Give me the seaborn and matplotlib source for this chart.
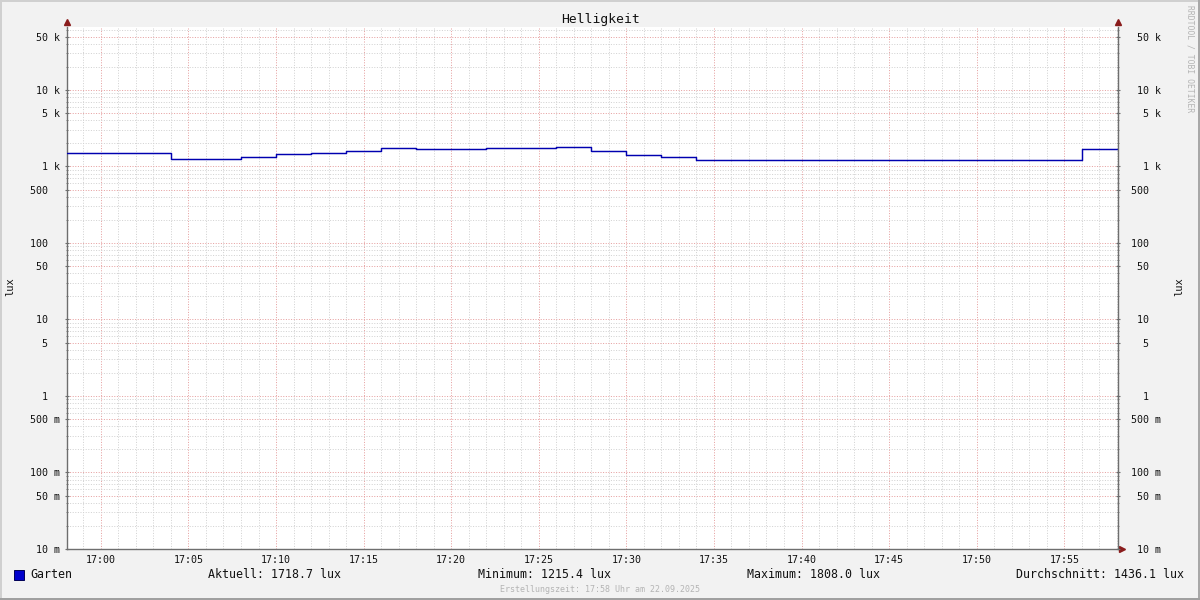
import matplotlib
matplotlib.use("Agg")
import numpy as np
import pandas as pd
import seaborn as sns
import matplotlib.pyplot as plt
import matplotlib.dates as mdates
from matplotlib.ticker import FixedLocator, NullFormatter
from matplotlib.patches import Rectangle

# ---------------- data ----------------
title = "Helligkeit"
series_name = "Garten"
unit = "lux"
day = "2025-09-22"
times = ["16:58:04", "17:04:00", "17:08:00", "17:10:00", "17:12:00", "17:14:00",
         "17:16:00", "17:18:00", "17:22:00", "17:26:00", "17:28:00", "17:30:00",
         "17:32:00", "17:34:00", "17:56:00", "17:58:04"]
lux = [1510, 1255, 1335, 1460, 1505, 1600, 1750, 1700, 1750, 1808, 1600, 1420,
       1335, 1215.4, 1718.7, 1718.7]
ytick_values = [0.01, 0.05, 0.1, 0.5, 1, 5, 10, 50, 100, 500, 1000, 5000, 10000, 50000]
ytick_labels = [" 10 m", " 50 m", "100 m", "500 m", "  1  ", "  5  ", " 10  ",
                " 50  ", "100  ", "500  ", "  1 k", "  5 k", " 10 k", " 50 k"]
stat_labels = ["Aktuell: 1718.7 lux", "Minimum: 1215.4 lux",
               "Maximum: 1808.0 lux", "Durchschnitt: 1436.1 lux"]
footer = "Erstellungszeit: 17:58 Uhr am 22.09.2025"
watermark = "RRDTOOL / TOBI OETIKER"

# ---------------- style ----------------
sns.set_theme(style="white")
plt.rcParams["font.family"] = ["DejaVu Sans Mono", "DejaVu Sans"]

W, H = 1200, 600
BG = "#f2f2f2"
LINE = "#0000b0"
MAJ = "#e6a0a0"
MIN = "#d2d2d2"
AXC = "#6e6e6e"
ARROW = "#8a1c1c"

fig = plt.figure(figsize=(12, 6), dpi=100, facecolor=BG)

def fx(x):
    return x / W

def fy(y):
    return 1 - y / H

x0, x1, y0, y1 = 67, 1118, 27, 549
ax = fig.add_axes([fx(x0), fy(y1), (x1 - x0) / W, (y1 - y0) / H])
ax.set_facecolor("white")

df = pd.DataFrame({"t": pd.to_datetime([f"{day} {t}" for t in times]), "lux": lux})
sns.lineplot(data=df, x="t", y="lux", drawstyle="steps-post", color=LINE,
             linewidth=1.05, ax=ax, zorder=3, legend=False)

ax.set_yscale("log")
ylim = (0.01, 66600)
ax.set_ylim(*ylim)
ax.set_xlim(df["t"].iloc[0], df["t"].iloc[-1])
ax.set_xlabel("")
ax.set_ylabel("")

minor_vals = [m * 10.0 ** e for e in range(-2, 5) for m in (2, 3, 4, 6, 7, 8, 9)]
minor_vals = [v for v in minor_vals if ylim[0] < v < ylim[1]]

# x axis ticks
ax.xaxis.set_major_locator(mdates.MinuteLocator(byminute=range(0, 60, 5)))
ax.xaxis.set_minor_locator(mdates.MinuteLocator())
ax.xaxis.set_major_formatter(mdates.DateFormatter("%H:%M"))
ax.tick_params(axis="x", which="major", direction="inout", length=4, width=0.8,
               color=AXC, labelsize=7.2, pad=2, labelcolor="#111111")
ax.tick_params(axis="x", which="minor", direction="inout", length=3, width=0.6, color=AXC)

# left y axis
ax.yaxis.set_major_locator(FixedLocator(ytick_values))
ax.yaxis.set_minor_locator(FixedLocator(minor_vals))
ax.yaxis.set_minor_formatter(NullFormatter())
ax.set_yticks(ytick_values, labels=ytick_labels, ha="left")
ax.tick_params(axis="y", which="major", direction="inout", length=3, width=0.8,
               color=AXC, labelsize=7.2, pad=25.1, labelcolor="#111111",
               left=True, right=False)
ax.tick_params(axis="y", which="minor", direction="inout", length=2, width=0.6,
               color=AXC, left=True, right=False)

# grid
ax.grid(which="minor", axis="both", color=MIN, linestyle=(0, (1, 1.6)), linewidth=0.72, zorder=0)
ax.grid(which="major", axis="both", color=MAJ, linestyle=(0, (1, 1.6)), linewidth=0.72, zorder=1)
ax.set_axisbelow(True)

for s in ["top", "right"]:
    ax.spines[s].set_visible(False)
for s in ["left", "bottom"]:
    ax.spines[s].set_color(AXC)
    ax.spines[s].set_linewidth(1.0)

# right y axis
ax2 = ax.twinx()
ax2.set_yscale("log")
ax2.set_ylim(*ylim)
ax2.yaxis.set_major_locator(FixedLocator(ytick_values))
ax2.yaxis.set_minor_locator(FixedLocator(minor_vals))
ax2.yaxis.set_minor_formatter(NullFormatter())
ax2.set_yticks(ytick_values, labels=ytick_labels, ha="left")
ax2.tick_params(axis="y", which="major", direction="inout", length=3, width=0.8,
                color=AXC, labelsize=7.2, pad=7.9, labelcolor="#111111")
ax2.tick_params(axis="y", which="minor", direction="inout", length=2, width=0.6, color=AXC)
ax2.grid(False)
for s in ["top", "left", "bottom"]:
    ax2.spines[s].set_visible(False)
ax2.spines["right"].set_color(AXC)
ax2.spines["right"].set_linewidth(1.0)
ax2.patch.set_visible(False)

# arrows
for pos, mk in [((0, 1 + 5 / (y1 - y0)), "^"), ((1, 1 + 5 / (y1 - y0)), "^"),
                ((1 + 4 / (x1 - x0), 0), ">")]:
    ax.plot([pos[0]], [pos[1]], marker=mk, markersize=4.5, color=ARROW,
            transform=ax.transAxes, clip_on=False, zorder=5)

# texts
fig.text(fx(600), fy(19), title, ha="center", va="center", fontsize=9.4, color="#111111")
fig.text(fx(10), fy(287), unit, ha="center", va="center", rotation=90, fontsize=7.5, color="#111111")
fig.text(fx(1179), fy(287), unit, ha="center", va="center", rotation=90, fontsize=7.5, color="#111111")
fig.text(fx(1190), fy(5), watermark, ha="center", va="top", rotation=270,
         fontsize=5.8, color="#b4b4b4")

# legend row
fig.patches.append(Rectangle((fx(14), fy(580)), 10 / W, 10 / H, transform=fig.transFigure,
                             facecolor="#0000cc", edgecolor="#000055", linewidth=0.7))
fig.text(fx(30), fy(575), series_name, ha="left", va="center", fontsize=8.35, color="#111111")
for xpos, txt in zip([208, 478, 747, 1016], stat_labels):
    fig.text(fx(xpos), fy(575), txt, ha="left", va="center", fontsize=8.35, color="#111111")
fig.text(fx(600), fy(589), footer, ha="center", va="center", fontsize=6.0, color="#b4b4b4")

# 3D-ish frame
fig.patches.append(Rectangle((0, 0), 2 / W, 1, transform=fig.transFigure, facecolor="#d0d0d0", edgecolor="none"))
fig.patches.append(Rectangle((0, 1 - 2 / H), 1, 2 / H, transform=fig.transFigure, facecolor="#d0d0d0", edgecolor="none"))
fig.patches.append(Rectangle((1 - 2 / W, 0), 2 / W, 1, transform=fig.transFigure, facecolor="#a8a8a8", edgecolor="none"))
fig.patches.append(Rectangle((0, 0), 1, 2 / H, transform=fig.transFigure, facecolor="#a0a0a0", edgecolor="none"))

fig.savefig("out.png", dpi=100, facecolor=BG)
